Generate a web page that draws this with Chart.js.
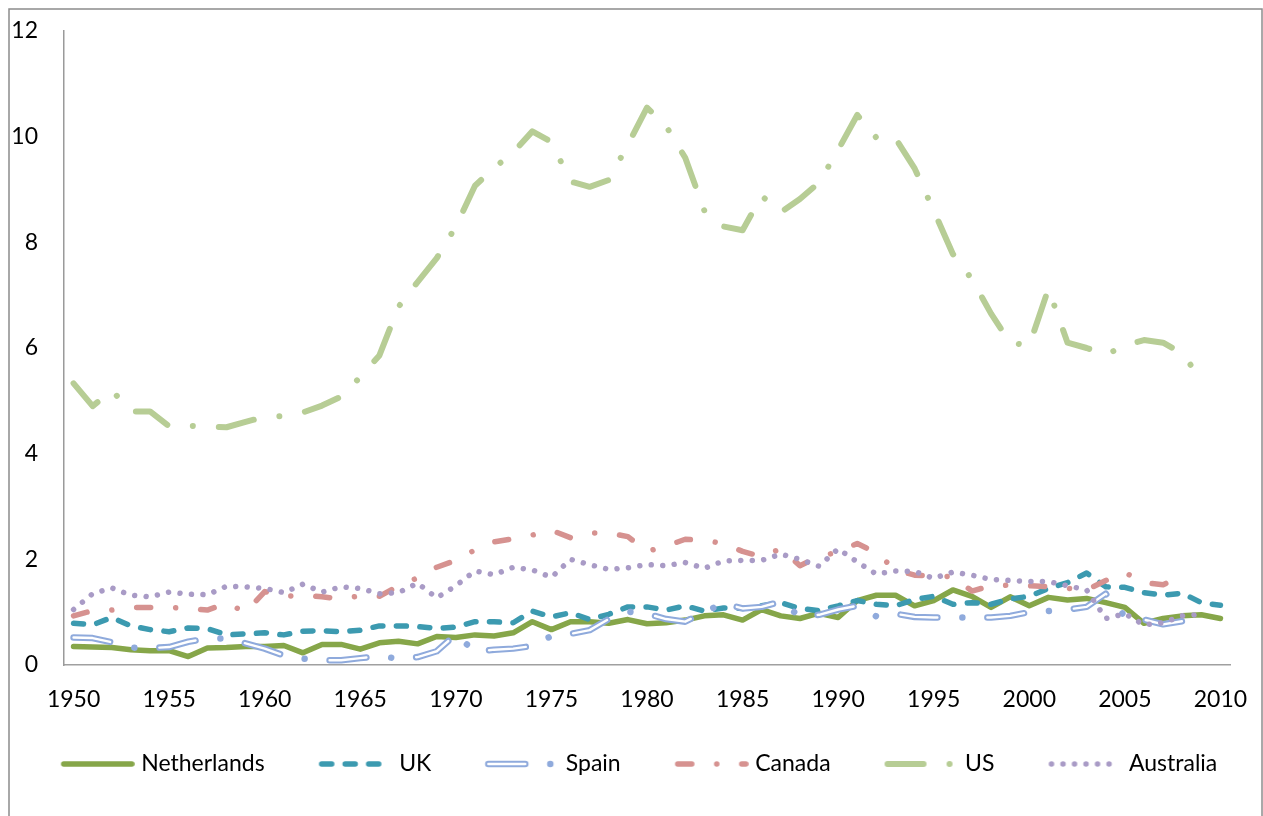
<!DOCTYPE html>
<html>
<head>
<meta charset="utf-8">
<title>Country series 1950–2010</title>
<script src="https://cdn.jsdelivr.net/npm/chart.js@4.4.1/dist/chart.umd.min.js"></script>
<style>
  html, body { margin: 0; padding: 0; background: #ffffff; overflow: hidden; }
  #wrap { position: relative; width: 1263px; height: 816px; }
</style>
</head>
<body>
<div id="wrap"><canvas id="chart"></canvas></div>
<script>
// ---- data -------------------------------------------------------------
const years = [
  '1950','1951','1952','1953','1954','1955','1956','1957','1958','1959',
  '1960','1961','1962','1963','1964','1965','1966','1967','1968','1969',
  '1970','1971','1972','1973','1974','1975','1976','1977','1978','1979',
  '1980','1981','1982','1983','1984','1985','1986','1987','1988','1989',
  '1990','1991','1992','1993','1994','1995','1996','1997','1998','1999',
  '2000','2001','2002','2003','2004','2005','2006','2007','2008','2009',
  '2010'
];
const tickYears = ['1950','1955','1960','1965','1970','1975','1980','1985','1990','1995','2000','2005','2010'];
const yTicks = [0, 2, 4, 6, 8, 10, 12];

const netherlands = [
  0.35, 0.34, 0.33, 0.29, 0.27, 0.27, 0.16, 0.32, 0.33, 0.35,
  0.35, 0.37, 0.23, 0.39, 0.39, 0.30, 0.42, 0.45, 0.40, 0.54,
  0.52, 0.57, 0.55, 0.61, 0.82, 0.67, 0.82, 0.82, 0.79, 0.86,
  0.78, 0.80, 0.85, 0.93, 0.95, 0.85, 1.05, 0.93, 0.88, 0.98,
  0.90, 1.22, 1.32, 1.32, 1.12, 1.22, 1.42, 1.30, 1.09, 1.29,
  1.12, 1.28, 1.23, 1.26, 1.18, 1.09, 0.79, 0.88, 0.93, 0.95,
  0.88
];
const uk = [
  0.79, 0.76, 0.90, 0.74, 0.67, 0.63, 0.70, 0.69, 0.57, 0.59,
  0.61, 0.57, 0.64, 0.65, 0.63, 0.66, 0.74, 0.74, 0.73, 0.69,
  0.72, 0.82, 0.82, 0.80, 1.02, 0.91, 0.99, 0.86, 0.96, 1.10,
  1.10, 1.04, 1.12, 1.02, 1.08, 1.07, 1.12, 1.18, 1.07, 1.03,
  1.12, 1.22, 1.15, 1.12, 1.24, 1.30, 1.15, 1.18, 1.15, 1.25,
  1.30, 1.45, 1.56, 1.74, 1.48, 1.47, 1.37, 1.32, 1.36, 1.18,
  1.13
];
const spain = [
  0.52, 0.51, 0.43, 0.33, 0.32, 0.34, 0.44, 0.50, 0.50, 0.41,
  0.31, 0.18, 0.12, 0.09, 0.09, 0.13, 0.17, 0.12, 0.15, 0.26,
  0.58, 0.25, 0.29, 0.31, 0.36, 0.55, 0.59, 0.66, 0.87, 1.01,
  0.97, 0.87, 0.82, 1.00, 1.17, 1.07, 1.10, 1.20, 0.92, 0.95,
  1.05, 1.12, 0.92, 0.97, 0.91, 0.90, 0.90, 0.90, 0.90, 0.93,
  1.00, 1.02, 1.05, 1.10, 1.35, 0.92, 0.86, 0.77, 0.83, 0.72,
  null
];
const canada = [
  0.93, 1.03, 1.04, 1.09, 1.09, 1.09, 1.07, 1.04, 1.17, 1.00,
  1.39, 1.30, 1.32, 1.29, 1.25, 1.31, 1.30, 1.50, 1.65, 1.85,
  1.98, 2.18, 2.33, 2.39, 2.46, 2.55, 2.41, 2.50, 2.50, 2.43,
  2.15, 2.25, 2.38, 2.36, 2.30, 2.15, 2.05, 2.20, 1.88, 2.05,
  2.14, 2.30, 2.12, 1.80, 1.70, 1.69, 1.67, 1.40, 1.50, 1.51,
  1.50, 1.48, 1.45, 1.42, 1.60, 1.75, 1.56, 1.52, 1.69, null,
  null
];
const us = [
  5.33, 4.90, 5.20, 4.80, 4.80, 4.52, 4.53, 4.51, 4.50, 4.60,
  4.70, 4.71, 4.78, 4.91, 5.08, 5.45, 5.86, 6.78, 7.25, 7.70,
  8.30, 9.07, 9.41, 9.70, 10.10, 9.90, 9.15, 9.05, 9.18, 9.85,
  10.55, 10.20, 9.60, 8.60, 8.30, 8.23, 8.88, 8.57, 8.82, 9.13,
  9.75, 10.41, 9.98, 9.97, 9.40, 8.60, 7.78, 7.30, 6.65, 6.10,
  6.05, 7.12, 6.10, 6.00, 5.87, 6.05, 6.15, 6.10, 5.90, 5.40,
  null
];
const australia = [
  1.05, 1.35, 1.46, 1.32, 1.29, 1.38, 1.34, 1.33, 1.49, 1.48,
  1.45, 1.37, 1.53, 1.38, 1.48, 1.45, 1.35, 1.37, 1.55, 1.27,
  1.50, 1.78, 1.71, 1.85, 1.80, 1.66, 2.00, 1.90, 1.81, 1.84,
  1.90, 1.88, 1.94, 1.83, 1.97, 1.98, 1.98, 2.10, 2.00, 1.87,
  2.20, 1.95, 1.72, 1.78, 1.77, 1.64, 1.76, 1.70, 1.62, 1.60,
  1.58, 1.58, 1.50, 1.42, 0.88, 0.97, 0.76, 0.80, 0.93, 0.96,
  null
];

// ---- styles -------------------------------------------------------------
const FONT = 'Lato';
const FONT_SIZE = 23;
const LEGEND_BOX = 117;            // legend box width reserved per item
const SAMPLE_IMG_W = LEGEND_BOX + 10;

const styles = {
  netherlands: { color: '#86A649', width: 5.5, dash: [] },
  uk:          { color: '#3C9AB0', width: 5.5, dash: [10, 13.5] },
  spain:       { color: '#8FAADC', width: 6.5, dash: [37, 25, 0.01, 25], innerWidth: 2.4, innerDash: [37, 50.01] },
  canada:      { color: '#D69290', width: 5.5, dash: [14, 25, 0.01, 25] },
  us:          { color: '#B7CD95', width: 6,   dash: [36, 26, 0.01, 26] },
  australia:   { color: '#A99BC6', width: 5.5, dash: [0.01, 11.5] }
};

// Small canvas with a line sample, used as the legend marker
function lineSample(st) {
  const c = document.createElement('canvas');
  c.width = SAMPLE_IMG_W;
  c.height = 14;
  const g = c.getContext('2d');
  const x0 = SAMPLE_IMG_W - 71, x1 = SAMPLE_IMG_W - 3, cy = 7;
  g.lineCap = 'round';
  g.lineJoin = 'round';
  g.strokeStyle = st.color;
  g.lineWidth = st.width;
  g.setLineDash(st.dash);
  g.beginPath(); g.moveTo(x0, cy); g.lineTo(x1, cy); g.stroke();
  if (st.innerWidth) {
    g.strokeStyle = '#ffffff';
    g.lineWidth = st.innerWidth;
    g.setLineDash(st.innerDash);
    g.beginPath(); g.moveTo(x0, cy); g.lineTo(x1, cy); g.stroke();
  }
  return c;
}

function series(label, data, st, order) {
  return {
    label, data, order,
    borderColor: st.color,
    backgroundColor: st.color,
    borderWidth: st.width,
    borderDash: st.dash,
    borderCapStyle: 'round',
    borderJoinStyle: 'round',
    tension: 0,
    fill: false,
    pointRadius: 0,
    pointHoverRadius: 0,
    pointStyle: lineSample(st)
  };
}

// Outer grey frame round the chart
const framePlugin = {
  id: 'frame',
  beforeDraw(chart) {
    const ctx = chart.ctx;
    ctx.save();
    ctx.strokeStyle = '#8c8c8c';
    ctx.lineWidth = 1.5;
    ctx.strokeRect(9, 9, 1253, 900);
    ctx.restore();
  }
};

function build() {
  const spainInner = {
    label: 'Spain (inner)',
    data: spain,
    order: 4,
    isInner: true,
    borderColor: '#ffffff',
    borderWidth: styles.spain.innerWidth,
    borderDash: styles.spain.innerDash,
    borderCapStyle: 'round',
    borderJoinStyle: 'round',
    tension: 0,
    fill: false,
    pointRadius: 0,
    pointHoverRadius: 0
  };

  new Chart(document.getElementById('chart'), {
    type: 'line',
    data: {
      labels: years,
      datasets: [
        series('Netherlands', netherlands, styles.netherlands, 7),
        series('UK', uk, styles.uk, 6),
        series('Spain', spain, styles.spain, 5),
        spainInner,
        series('Canada', canada, styles.canada, 3),
        series('US', us, styles.us, 2),
        series('Australia', australia, styles.australia, 1)
      ]
    },
    options: {
      responsive: true,
      maintainAspectRatio: false,
      animation: false,
      events: [],
      layout: { padding: { left: 0, right: 33, top: 31, bottom: 30.5 } },
      plugins: {
        tooltip: { enabled: false },
        legend: {
          position: 'bottom',
          labels: {
            usePointStyle: true,
            pointStyleWidth: LEGEND_BOX,
            padding: 6,
            color: '#000000',
            font: { family: FONT, size: FONT_SIZE },
            filter: (item, data) => !data.datasets[item.datasetIndex].isInner,
            sort: (a, b) => a.datasetIndex - b.datasetIndex
          }
        }
      },
      scales: {
        x: {
          type: 'category',
          offset: true,
          // tick marks are not drawn (grid hidden); their length only spaces the labels
          grid: { display: false, drawTicks: true, tickLength: 17 },
          border: { display: true, color: '#a0a0a0', width: 1.5 },
          ticks: {
            autoSkip: false,
            maxRotation: 0,
            minRotation: 0,
            padding: 4,
            color: '#000000',
            font: { family: FONT, size: FONT_SIZE },
            callback: (v, i) => tickYears.includes(years[i]) ? years[i] : ''
          },
          afterFit: (scale) => { scale.height = 81.5; }
        },
        y: {
          min: yTicks[0],
          max: yTicks[yTicks.length - 1],
          grid: { display: false, drawTicks: true, tickLength: 22 },
          border: { display: true, color: '#9a9a9a', width: 1.5 },
          afterBuildTicks: (scale) => { scale.ticks = yTicks.map(v => ({ value: v })); },
          ticks: {
            padding: 4,
            color: '#000000',
            font: { family: FONT, size: FONT_SIZE }
          },
          afterFit: (scale) => { scale.width = 64; }
        }
      }
    },
    plugins: [framePlugin]
  });
}

if (document.fonts && document.fonts.load) {
  document.fonts.load(FONT_SIZE + 'px ' + FONT).then(build, build);
} else {
  build();
}
</script>
</body>
</html>
